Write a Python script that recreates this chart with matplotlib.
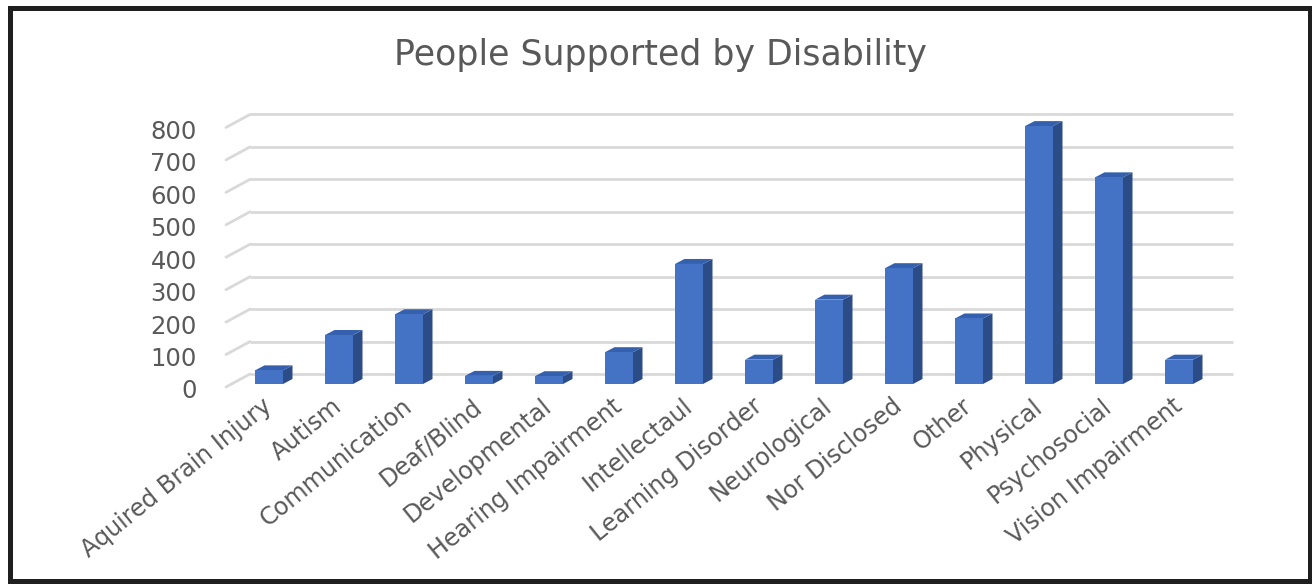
import matplotlib
matplotlib.use("Agg")
import matplotlib.pyplot as plt
from matplotlib.patches import Polygon, Rectangle
from matplotlib.transforms import ScaledTranslation

# ---- data ---------------------------------------------------------------
categories = [
    "Aquired Brain Injury", "Autism", "Communication", "Deaf/Blind",
    "Developmental", "Hearing Impairment", "Intellectaul", "Learning Disorder",
    "Neurological", "Nor Disclosed", "Other", "Physical", "Psychosocial",
    "Vision Impairment",
]
people = [42, 151, 215, 25, 24, 98, 370, 75, 260, 357, 202, 795, 637, 75]
y_ticks = [0, 100, 200, 300, 400, 500, 600, 700, 800]
title = "People Supported by Disability"

# ---- styling ------------------------------------------------------------
FONT = ["DejaVu Sans"]
TEXT_COLOR = "#595959"
FRONT = "#4472c4"
SIDE = "#2c4c87"
TOP = "#3460ad"
GRID = "#d9d9d9"

W, H, DPI = 1312, 585, 100
fig = plt.figure(figsize=(W / DPI, H / DPI), dpi=DPI)
fig.patch.set_facecolor("white")

# plot-area geometry (pixels from top-left)
PX_CAT = 70.0        # pixels per category step
PX_UNIT = 0.3244     # pixels per value unit
X0_PX = 269.0        # centre of first category
Y0_PX = 384.0        # baseline of the bar front faces
xlim = (-1.0, 14.0)
ylim = (-25.0, 850.0)
left_px = X0_PX + xlim[0] * PX_CAT
right_px = X0_PX + xlim[1] * PX_CAT
bot_px = Y0_PX - ylim[0] * PX_UNIT
top_px = Y0_PX - ylim[1] * PX_UNIT
ax = fig.add_axes([left_px / W, 1 - bot_px / H,
                   (right_px - left_px) / W, (bot_px - top_px) / H])
ax.set_xlim(*xlim)
ax.set_ylim(*ylim)
ax.set_facecolor("none")
for s in ax.spines.values():
    s.set_visible(False)

# depth of the pseudo-3D projection, converted to data units
def dx(px):
    return px / PX_CAT

def dy(px):
    return px / PX_UNIT

BAR_W = 28.0 / PX_CAT
BAR_DX, BAR_DY = dx(9.5), dy(5.0)
WALL_X0, WALL_X1 = dx(250 - X0_PX), dx(1233 - X0_PX)
FLOOR_X0 = dx(226 - X0_PX)
WALL_DY = dy(10.0)
FRONT_DY = dy(-3.0)

# gridlines: back wall plus the short receding segment on the left
for v in y_ticks:
    ax.plot([WALL_X0, WALL_X1], [v + WALL_DY, v + WALL_DY],
            color=GRID, lw=2.0, solid_capstyle="butt", zorder=1)
    ax.plot([FLOOR_X0, WALL_X0], [v + FRONT_DY, v + WALL_DY],
            color=GRID, lw=2.0, solid_capstyle="round", zorder=1)

# bars: front face, side face, top face
xs = list(range(len(categories)))
ax.bar(xs, people, width=BAR_W, color=FRONT, zorder=4, linewidth=0)
for x, v in zip(xs, people):
    xl, xr = x - BAR_W / 2, x + BAR_W / 2
    side = Polygon([(xr, 0), (xr + BAR_DX, BAR_DY),
                    (xr + BAR_DX, v + BAR_DY), (xr, v)],
                   closed=True, facecolor=SIDE, edgecolor="none", zorder=3)
    top = Polygon([(xl, v), (xr, v), (xr + BAR_DX, v + BAR_DY),
                   (xl + BAR_DX, v + BAR_DY)],
                  closed=True, facecolor=TOP, edgecolor="none", zorder=3)
    ax.add_patch(side)
    ax.add_patch(top)

# axis labels
ax.set_yticks(y_ticks)
ax.set_yticklabels([str(v) for v in y_ticks], fontsize=17.5,
                   color=TEXT_COLOR, family=FONT)
ax.tick_params(axis="y", length=0, pad=1.5)
shift = ScaledTranslation(0, -5 / DPI, fig.dpi_scale_trans)
for lab in ax.get_yticklabels():
    lab.set_transform(lab.get_transform() + shift)

ax.set_xticks(xs)
ax.set_xticklabels(categories, fontsize=17.2, color=TEXT_COLOR, family=FONT,
                   rotation=39, ha="right", va="center",
                   rotation_mode="anchor")
ax.tick_params(axis="x", length=0, pad=8)

fig.text(660 / W, 1 - 64.5 / H, title, fontsize=25, color=TEXT_COLOR,
         family=FONT, ha="center", va="baseline")

# outer frame
fig.patches.append(Rectangle((10 / W, 1 - 581 / H), 1300 / W, 573.5 / H,
                             transform=fig.transFigure, fill=False,
                             edgecolor="#1f1f1f", linewidth=3.6, zorder=10))

fig.savefig("out.png", dpi=DPI, facecolor="white")
